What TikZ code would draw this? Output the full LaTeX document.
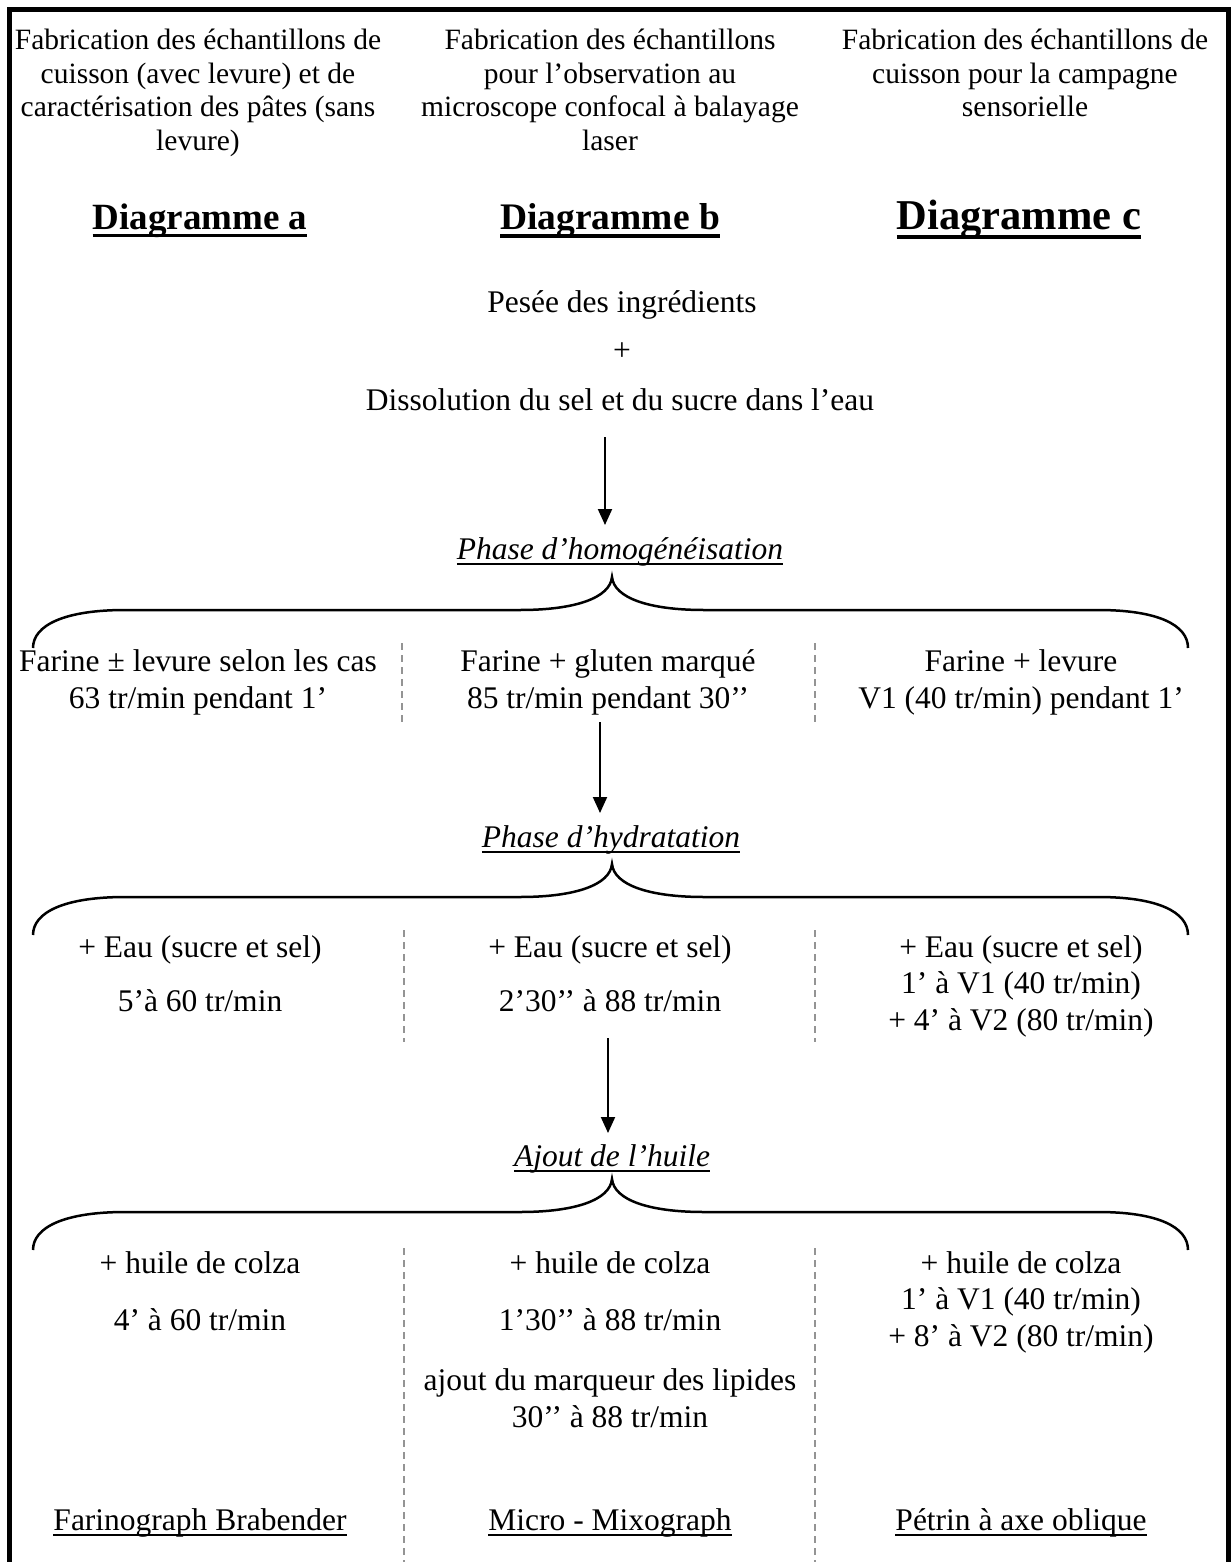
\documentclass[tikz,border=0pt]{standalone}
\usepackage{fontspec}
\setmainfont{Liberation Serif}
\usetikzlibrary{arrows.meta}
\newcommand{\myul}[2][0.05em]{\setbox0\hbox{#2}\leavevmode\rlap{\rule[-0.19em]{\wd0}{#1}}\box0}
\newcommand{\myulb}[1]{\setbox0\hbox{#1}\leavevmode\rlap{\rule[-0.2em]{\wd0}{0.09em}}\box0}
\begin{document}
\begin{tikzpicture}[x=1pt,y=-1pt,
  hdr/.style={font=\fontsize{29.5}{33.5}\selectfont, align=center, anchor=base, inner sep=0pt},
  txt/.style={font=\fontsize{31.5}{36.5}\selectfont, align=center, anchor=base, inner sep=0pt},
  ttl/.style={font=\bfseries, anchor=base, inner sep=0pt},
  arr/.style={line width=2pt, -{Triangle[length=16pt,width=14pt]}},
  bracestyle/.style={line width=2.5pt},
  sep/.style={draw=black!42, line width=2pt, dash pattern=on 7pt off 5pt},
  frame/.style={line width=5pt}]
\useasboundingbox (0,0) rectangle (1231,1562);
% frame
\draw[frame] (9.5,1570) -- (9.5,9.5) -- (1228.5,9.5) -- (1228.5,1570);
% headers (anchor=base is the last line)
\node[hdr] (ha) at (198,150.5) {Fabrication des échantillons de\\cuisson (avec levure) et de\\caractérisation des pâtes (sans\\levure)};
\node[hdr] (hb) at (610,150.5) {Fabrication des échantillons\\pour l’observation au\\microscope confocal à balayage\\laser};
\node[hdr] (hc) at (1025,117) {Fabrication des échantillons de\\cuisson pour la campagne\\sensorielle};
% titles
\node[ttl, font=\bfseries\fontsize{37}{40}\selectfont] (ta) at (200,230) {\myulb{Diagramme a}};
\node[ttl, font=\bfseries\fontsize{37.5}{40}\selectfont] (tb) at (610,230) {\myulb{Diagramme b}};
\node[ttl, font=\bfseries\fontsize{42.5}{45}\selectfont] (tc) at (1019,230) {\myulb{Diagramme c}};
% start
\node[txt] (pesee) at (622,312) {Pesée des ingrédients};
\node[txt] (plus) at (622,360) {+};
\node[txt] (dissol) at (620,410) {Dissolution du sel et du sucre dans l’eau};
\coordinate (a1s) at (605,437);
\coordinate (a1e) at (605,525);
\draw[arr] (a1s) -- (a1e);
\node[txt, font=\itshape\fontsize{31.5}{36.5}\selectfont] (homog) at (620,559) {\myul{Phase d’homogénéisation}};
\draw[bracestyle, shift={(0,610)}] (33,38) .. controls (33,15) and (65,0) .. (125,0) -- (520,0) .. controls (575,0) and (610,-12) .. (612,-33) .. controls (614,-12) and (649,0) .. (704,0) -- (1098,0) .. controls (1158,0) and (1188,15) .. (1188,38);
% row 1
\node[txt] (r1a) at (198,708) {Farine ± levure selon les cas\\63 tr/min pendant 1’};
\node[txt] (r1b) at (608,708) {Farine + gluten marqué\\85 tr/min pendant 30’’};
\node[txt] (r1c) at (1021,708) {Farine + levure\\V1 (40 tr/min) pendant 1’};
\draw[sep] (402,643) -- (402,722);
\draw[sep] (815,643) -- (815,722);
\coordinate (a2s) at (600,722);
\coordinate (a2e) at (600,813);
\draw[arr] (a2s) -- (a2e);
\node[txt, font=\itshape\fontsize{31.5}{36.5}\selectfont] (hydra) at (611,847) {\myul{Phase d’hydratation}};
\draw[bracestyle, shift={(0,897)}] (33,38) .. controls (33,15) and (65,0) .. (125,0) -- (520,0) .. controls (575,0) and (610,-12) .. (612,-33) .. controls (614,-12) and (649,0) .. (704,0) -- (1098,0) .. controls (1158,0) and (1188,15) .. (1188,38);
% row 2
\node[txt] (r2a1) at (200,957) {+ Eau (sucre et sel)};
\node[txt] (r2a2) at (200,1011) {5’à 60 tr/min};
\node[txt] (r2b1) at (610,957) {+ Eau (sucre et sel)};
\node[txt] (r2b2) at (610,1011) {2’30’’ à 88 tr/min};
\node[txt] (r2c) at (1021,1030) {+ Eau (sucre et sel)\\1’ à V1 (40 tr/min)\\+ 4’ à V2 (80 tr/min)};
\draw[sep] (404,930) -- (404,1042);
\draw[sep] (815,930) -- (815,1042);
\coordinate (a3s) at (608,1038);
\coordinate (a3e) at (608,1133);
\draw[arr] (a3s) -- (a3e);
\node[txt, font=\itshape\fontsize{31.5}{36.5}\selectfont] (ajout) at (612,1166) {\myul{Ajout de l’huile}};
\draw[bracestyle, shift={(0,1212)}] (33,38) .. controls (33,15) and (65,0) .. (125,0) -- (520,0) .. controls (575,0) and (610,-12) .. (612,-33) .. controls (614,-12) and (649,0) .. (704,0) -- (1098,0) .. controls (1158,0) and (1188,15) .. (1188,38);
% row 3
\node[txt] (r3a1) at (200,1273) {+ huile de colza};
\node[txt] (r3a2) at (200,1330) {4’ à 60 tr/min};
\node[txt] (r3b1) at (610,1273) {+ huile de colza};
\node[txt] (r3b2) at (610,1330) {1’30’’ à 88 tr/min};
\node[txt] (r3b3) at (610,1427) {ajout du marqueur des lipides\\30’’ à 88 tr/min};
\node[txt] (r3c) at (1021,1346) {+ huile de colza\\1’ à V1 (40 tr/min)\\+ 8’ à V2 (80 tr/min)};
\draw[sep] (404,1248) -- (404,1562);
\draw[sep] (815,1248) -- (815,1562);
% bottom
\node[txt] (ba) at (200,1530) {\myul{Farinograph Brabender}};
\node[txt] (bb) at (610,1530) {\myul{Micro - Mixograph}};
\node[txt] (bc) at (1021,1530) {\myul{Pétrin à axe oblique}};
\end{tikzpicture}
\end{document}
